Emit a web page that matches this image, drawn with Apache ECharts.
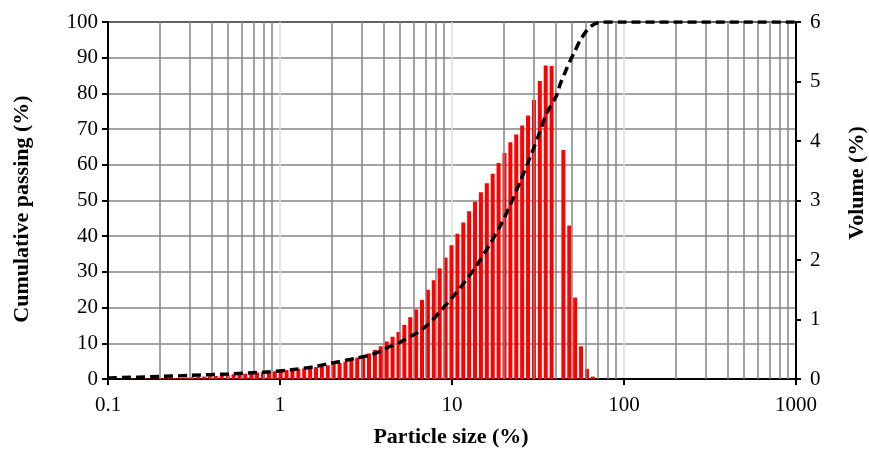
<!DOCTYPE html>
<html>
<head>
<meta charset="utf-8">
<script src="https://cdn.jsdelivr.net/npm/echarts@6/dist/echarts.min.js"></script>
<style>
  html, body { margin: 0; padding: 0; background: #fff; }
  #chart { width: 869px; height: 452px; }
</style>
</head>
<body>
<div id="chart"></div>
<script>
// Size classes (class mid-points) of the volume histogram
const binSizes = [
  0.120, 0.130, 0.1405, 0.152, 0.1645, 0.178, 0.1926, 0.2084, 0.2255, 0.244,
  0.264, 0.2857, 0.309, 0.3345, 0.362, 0.3916, 0.4238, 0.4586, 0.4962, 0.537,
  0.581, 0.6287, 0.6803, 0.7361, 0.7965, 0.8618, 0.9324, 1.009, 1.092, 1.181,
  1.278, 1.383, 1.497, 1.619, 1.752, 1.896, 2.051, 2.220, 2.402, 2.599,
  2.812, 3.043, 3.293, 3.563, 3.855, 4.172, 4.514, 4.885, 5.284, 5.718,
  6.187, 6.694, 7.244, 7.838, 8.481, 9.178, 9.931, 10.75, 11.63, 12.58,
  13.61, 14.73, 15.94, 17.25, 18.66, 20.19, 21.85, 23.64, 25.58, 27.68,
  29.95, 32.40, 35.06, 37.94, 41.05, 44.42, 48.07, 52.01, 56.28, 60.90,
  65.90
];
// Volume fraction in each class (%)
const volume = [
  0.005, 0.006, 0.007, 0.008, 0.009, 0.010, 0.010, 0.010, 0.012, 0.015,
  0.020, 0.025, 0.030, 0.035, 0.040, 0.045, 0.050, 0.060, 0.070, 0.080,
  0.085, 0.090, 0.100, 0.110, 0.115, 0.120, 0.130, 0.140, 0.150, 0.160,
  0.170, 0.180, 0.190, 0.200, 0.210, 0.230, 0.250, 0.270, 0.290, 0.320,
  0.360, 0.400, 0.430, 0.490, 0.550, 0.630, 0.710, 0.790, 0.910, 1.040,
  1.170, 1.330, 1.500, 1.660, 1.860, 2.040, 2.250, 2.440, 2.630, 2.820,
  2.980, 3.140, 3.290, 3.450, 3.630, 3.800, 3.980, 4.110, 4.260, 4.430,
  4.690, 5.010, 5.270, 5.260, 0.000, 3.850, 2.580, 1.370, 0.550, 0.170,
  0.040
];
// Cumulative passing curve (size, % passing)
const cumSizes = [
  0.1, 0.2, 0.3, 0.5, 0.8, 1.14, 1.57, 1.87, 2.78, 3.5, 4.14, 5.0, 5.68, 6.5, 7.45, 8.5, 9.96,
  12, 14, 16.5, 19.0, 21.7, 25, 28.4, 32, 35.5, 40.6, 42.5, 46, 48.5, 52, 55.5, 60.7, 65, 69.4, 75.5,
  100, 1000
];
const cumPassing = [
  0.3, 0.7, 1.0, 1.4, 1.9, 2.5, 3.4, 4.2, 5.8, 7.0, 8.6, 10.3, 11.8, 13.4, 15.8, 18.8, 22.6,
  27.5, 32, 37.5, 42.7, 48.5, 55.5, 62.0, 68.5, 74.4, 79.5, 82.5, 86.5, 89.0, 92.0, 94.8, 97.6, 99.0, 99.7, 100,
  100, 100
];
// Intermediate (2..9 × decade) vertical grid values
const minorGrid = [
  0.2, 0.3, 0.4, 0.5, 0.6, 0.7, 0.8, 0.9,
  2, 3, 4, 5, 6, 7, 8, 9,
  20, 30, 40, 50, 60, 70, 80, 90,
  200, 300, 400, 500, 600, 700, 800, 900
];
const xTickLabels = { 0.1: '0.1', 1: '1', 10: '10', 100: '100', 1000: '1000' };

const FONT = '"Liberation Serif", "Times New Roman", serif';
const GRID_GREY = '#858585';
const chart = echarts.init(document.getElementById('chart'), null, { renderer: 'canvas' });

const barData = binSizes.map((s, i) => [s, volume[i]]);
const cumData = cumSizes.map((s, i) => [s, cumPassing[i]]);

chart.setOption({
  animation: false,
  backgroundColor: '#ffffff',
  grid: {
    left: 108, right: 73, top: 22, bottom: 73,
    show: true, borderColor: '#000', borderWidth: 2, backgroundColor: 'transparent'
  },
  xAxis: {
    type: 'log', logBase: 10, min: 0.1, max: 1000,
    axisLine: { show: true, onZero: false, lineStyle: { color: '#000', width: 2 } },
    axisTick: { show: true, length: 6, lineStyle: { color: '#000', width: 2 } },
    axisLabel: {
      color: '#000', fontFamily: FONT, fontSize: 21, margin: 16,
      formatter: v => xTickLabels[+v.toPrecision(3)] || ''
    },
    splitLine: { show: true, lineStyle: { color: '#dcdcdc', width: 1.5 } }
  },
  yAxis: [
    {
      type: 'value', min: 0, max: 100, interval: 10, position: 'left',
      axisLine: { show: true, lineStyle: { color: '#000', width: 2 } },
      axisTick: { show: true, length: 6, lineStyle: { color: '#000', width: 2 } },
      axisLabel: { color: '#000', fontFamily: FONT, fontSize: 21, margin: 10 },
      splitLine: { show: true, lineStyle: { color: GRID_GREY, width: 1.5 } }
    },
    {
      type: 'value', min: 0, max: 6, interval: 1, position: 'right',
      axisLine: { show: true, lineStyle: { color: '#000', width: 2 } },
      axisTick: { show: true, length: 5, lineStyle: { color: '#000', width: 2 } },
      axisLabel: { color: '#000', fontFamily: FONT, fontSize: 21, margin: 14 },
      splitLine: { show: false }
    }
  ],
  graphic: [
    {
      type: 'text', x: 22, y: 209, rotation: Math.PI / 2,
      style: { text: 'Cumulative passing (%)', font: 'bold 22px ' + FONT, fill: '#000', align: 'center', verticalAlign: 'middle' }
    },
    {
      type: 'text', x: 857, y: 183, rotation: Math.PI / 2,
      style: { text: 'Volume (%)', font: 'bold 22px ' + FONT, fill: '#000', align: 'center', verticalAlign: 'middle' }
    },
    {
      type: 'text', x: 451, y: 437,
      style: { text: 'Particle size (%)', font: 'bold 22px ' + FONT, fill: '#000', align: 'center', verticalAlign: 'middle' }
    }
  ],
  series: [
    {
      // intermediate vertical grid lines
      type: 'line', data: [], xAxisIndex: 0, yAxisIndex: 0, silent: true, z: 1,
      markLine: {
        silent: true, symbol: 'none', label: { show: false }, animation: false,
        lineStyle: { color: GRID_GREY, width: 1.5, type: 'solid' },
        data: minorGrid.map(v => ({ xAxis: v }))
      }
    },
    {
      name: 'Volume', type: 'custom', xAxisIndex: 0, yAxisIndex: 1, z: 3,
      data: barData,
      renderItem: (params, api) => {
        const top = api.coord([api.value(0), api.value(1)]);
        const base = api.coord([api.value(0), 0]);
        return {
          type: 'rect',
          shape: { x: top[0] - 2, y: top[1], width: 4, height: base[1] - top[1] },
          style: { fill: '#ff0000' }
        };
      }
    },
    {
      name: 'Cumulative passing', type: 'line', xAxisIndex: 0, yAxisIndex: 0, z: 5,
      data: cumData, smooth: 0.3, showSymbol: false,
      lineStyle: { color: '#000', width: 3.5, type: [9, 5] }
    }
  ]
});
</script>
</body>
</html>
